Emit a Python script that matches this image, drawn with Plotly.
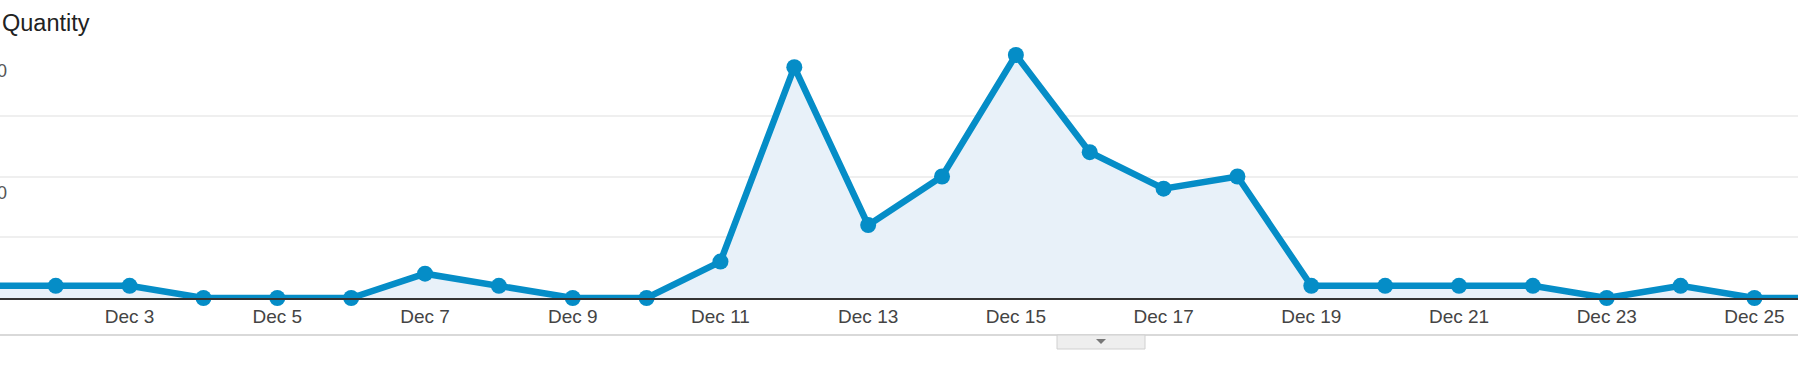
import plotly.graph_objects as go

# ---- data ----
days = list(range(1, 27))  # December day numbers (Dec 1 and Dec 26 sit just outside the view)
quantity = [1, 1, 1, 0, 0, 0, 2, 1, 0, 0, 3, 19, 6, 10, 20, 12, 9, 10, 1, 1, 1, 1, 0, 1, 0, 0]
tick_days = list(range(3, 26, 2))
tick_labels = [f"Dec {d}" for d in tick_days]
y_label_vals = [10, 20]
y_label_text = ["10", "20"]
metric_name = "Quantity"

# ---- styling constants ----
W, H = 1798, 374
PLOT_TOP, PLOT_BOTTOM = 55, 298
BLUE = "#058DC7"
FILL = "#e8f1f9"
FONT = "Arial, Liberation Sans, sans-serif"

fig = go.Figure()
fig.add_trace(go.Scatter(
    x=days, y=quantity, mode="lines+markers",
    line=dict(color=BLUE, width=6.5),
    marker=dict(color=BLUE, size=16),
    fill="tozeroy", fillcolor=FILL,
    cliponaxis=False, hoverinfo="skip", showlegend=False,
))

ph = PLOT_BOTTOM - PLOT_TOP

def py(pix):
    return (PLOT_BOTTOM - pix) / ph

annotations = [dict(
    text=metric_name, xref="paper", yref="paper", x=0, y=py(23),
    xanchor="left", yanchor="middle", xshift=0, showarrow=False,
    font=dict(family=FONT, size=23.5, color="#222"),
)]
for v, t in zip(y_label_vals, y_label_text):
    annotations.append(dict(
        text=t, xref="paper", yref="y", x=0, y=v, xanchor="right", yanchor="middle",
        xshift=9, yshift=-16, showarrow=False,
        font=dict(family=FONT, size=18, color="#555"),
    ))

shapes = [
    # bottom separator line
    dict(type="line", xref="paper", yref="paper", x0=0, x1=1, y0=py(335), y1=py(335),
         line=dict(color="#cccccc", width=1.5)),
    # collapse tab
    dict(type="rect", xref="paper", yref="paper", x0=1057 / W, x1=1145 / W,
         y0=py(349), y1=py(335), line=dict(color="#d0d0d0", width=1), fillcolor="#eeeeee"),
    dict(type="path", xref="paper", yref="paper",
         path=f"M {1096/W} {py(339)} L {1106/W} {py(339)} L {1101/W} {py(344)} Z",
         line=dict(width=0), fillcolor="#777777"),
]

fig.update_layout(
    width=W, height=H,
    margin=dict(l=0, r=0, t=PLOT_TOP, b=H - PLOT_BOTTOM, pad=0),
    paper_bgcolor="white", plot_bgcolor="white",
    annotations=annotations, shapes=shapes,
    xaxis=dict(
        range=[1.245, 25.59], tickmode="array", tickvals=tick_days, ticktext=tick_labels,
        showgrid=False, zeroline=False, showline=True, linecolor="#333", linewidth=2,
        ticks="", tickfont=dict(family=FONT, size=19, color="#444"),
        fixedrange=True,
    ),
    yaxis=dict(
        range=[0, 20], dtick=5, tick0=0, showticklabels=False, showgrid=True,
        gridcolor="#efefef", gridwidth=1.5, zeroline=False, showline=False, fixedrange=True,
    ),
)

fig.write_html(
    "out.html",
    config={"displayModeBar": False},
    post_script="document.body.style.margin='0';document.body.style.padding='0';",
)
